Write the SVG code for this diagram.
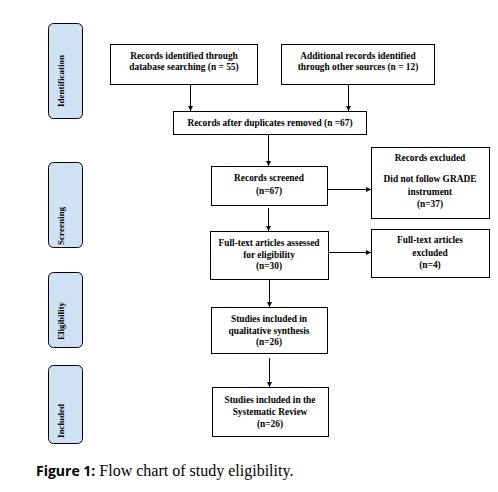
<svg xmlns="http://www.w3.org/2000/svg" width="498" height="492" viewBox="0 0 498 492">
<style>
.box{fill:#fff;stroke:#000;stroke-width:1}
.side{fill:#cfe2f3;stroke:#000;stroke-width:1}
.t{font-family:"Liberation Serif",serif;font-weight:bold;font-size:9.4px;fill:#000;text-anchor:middle}
.st{font-family:"Liberation Serif",serif;font-weight:bold;font-size:9px;fill:#000;text-anchor:middle}
.c{stroke:#000;stroke-width:1;fill:none}
</style>
<defs>
<marker id="ah" markerWidth="6" markerHeight="6" refX="5" refY="3" orient="auto" markerUnits="userSpaceOnUse">
<path d="M0,0.5 L5,3 L0,5.5 Z" fill="#000"/>
</marker>
</defs>
<rect width="498" height="492" fill="#fff"/>
<g id="side-identification"><rect class="side" x="48.5" y="23.5" width="34" height="95" rx="5"/><text class="st" transform="translate(64,81) rotate(-90)">Identification</text></g>
<g id="side-screening"><rect class="side" x="48.5" y="162.5" width="34" height="85" rx="5"/><text class="st" transform="translate(64,226) rotate(-90)">Screening</text></g>
<g id="side-eligibility"><rect class="side" x="48.5" y="272.5" width="34" height="75" rx="5"/><text class="st" transform="translate(64,321) rotate(-90)">Eligibility</text></g>
<g id="side-included"><rect class="side" x="48.5" y="365.5" width="34" height="78" rx="5"/><text class="st" transform="translate(64,421) rotate(-90)">Included</text></g>

<g id="n-db"><rect class="box" x="110.5" y="44.5" width="147" height="40"/><text class="t" x="184" y="59">Records identified through</text><text class="t" x="184" y="70">database searching (n = 55)</text></g>
<g id="n-other"><rect class="box" x="281.5" y="44.5" width="153" height="40"/><text class="t" x="358" y="59">Additional records identified</text><text class="t" x="358" y="70">through other sources (n = 12)</text></g>
<g id="n-dup"><rect class="box" x="173.5" y="111.5" width="193" height="23"/><text class="t" x="270" y="126">Records after duplicates removed (n =67)</text></g>
<g id="n-screened"><rect class="box" x="211.5" y="166.5" width="116" height="39"/><text class="t" x="269" y="181">Records screened</text><text class="t" x="269" y="194">(n=67)</text></g>
<g id="n-excl"><rect class="box" x="371.5" y="147.5" width="118" height="71"/><text class="t" x="430" y="161">Records excluded</text><text class="t" x="430" y="182">Did not follow GRADE</text><text class="t" x="430" y="195">instrument</text><text class="t" x="430" y="207">(n=37)</text></g>
<g id="n-full"><rect class="box" x="210.5" y="231.5" width="118" height="48"/><text class="t" x="269" y="246">Full-text articles assessed</text><text class="t" x="269" y="258">for eligibility</text><text class="t" x="269" y="269">(n=30)</text></g>
<g id="n-fullexcl"><rect class="box" x="371.5" y="229.5" width="118" height="48"/><text class="t" x="430" y="243">Full-text articles</text><text class="t" x="430" y="256">excluded</text><text class="t" x="430" y="268">(n=4)</text></g>
<g id="n-qual"><rect class="box" x="211.5" y="307.5" width="116" height="46"/><text class="t" x="269" y="322">Studies included in</text><text class="t" x="269" y="334">qualitative synthesis</text><text class="t" x="269" y="345">(n=26)</text></g>
<g id="n-sr"><rect class="box" x="212.5" y="387.5" width="116" height="49"/><text class="t" x="270" y="403">Studies included in the</text><text class="t" x="270" y="415">Systematic Review</text><text class="t" x="270" y="427">(n=26)</text></g>

<g id="connectors">
<line class="c" x1="190.5" y1="85" x2="190.5" y2="111" marker-end="url(#ah)"/>
<line class="c" x1="348.5" y1="85" x2="348.5" y2="111" marker-end="url(#ah)"/>
<line class="c" x1="268.5" y1="135" x2="268.5" y2="166" marker-end="url(#ah)"/>
<line class="c" x1="328" y1="189.5" x2="371" y2="189.5" marker-end="url(#ah)"/>
<line class="c" x1="268.5" y1="208" x2="268.5" y2="231" marker-end="url(#ah)"/>
<line class="c" x1="329" y1="252.5" x2="371" y2="252.5" marker-end="url(#ah)"/>
<line class="c" x1="269.5" y1="280" x2="269.5" y2="307" marker-end="url(#ah)"/>
<line class="c" x1="269.5" y1="358" x2="269.5" y2="387" marker-end="url(#ah)"/>
</g>
<text x="36" y="476" fill="#000"><tspan font-family="'Open Sans','Noto Sans',sans-serif" font-weight="bold" font-size="14">Figure 1:</tspan><tspan font-family="'Liberation Serif',serif" font-size="16"> Flow chart of study eligibility.</tspan></text>
</svg>
